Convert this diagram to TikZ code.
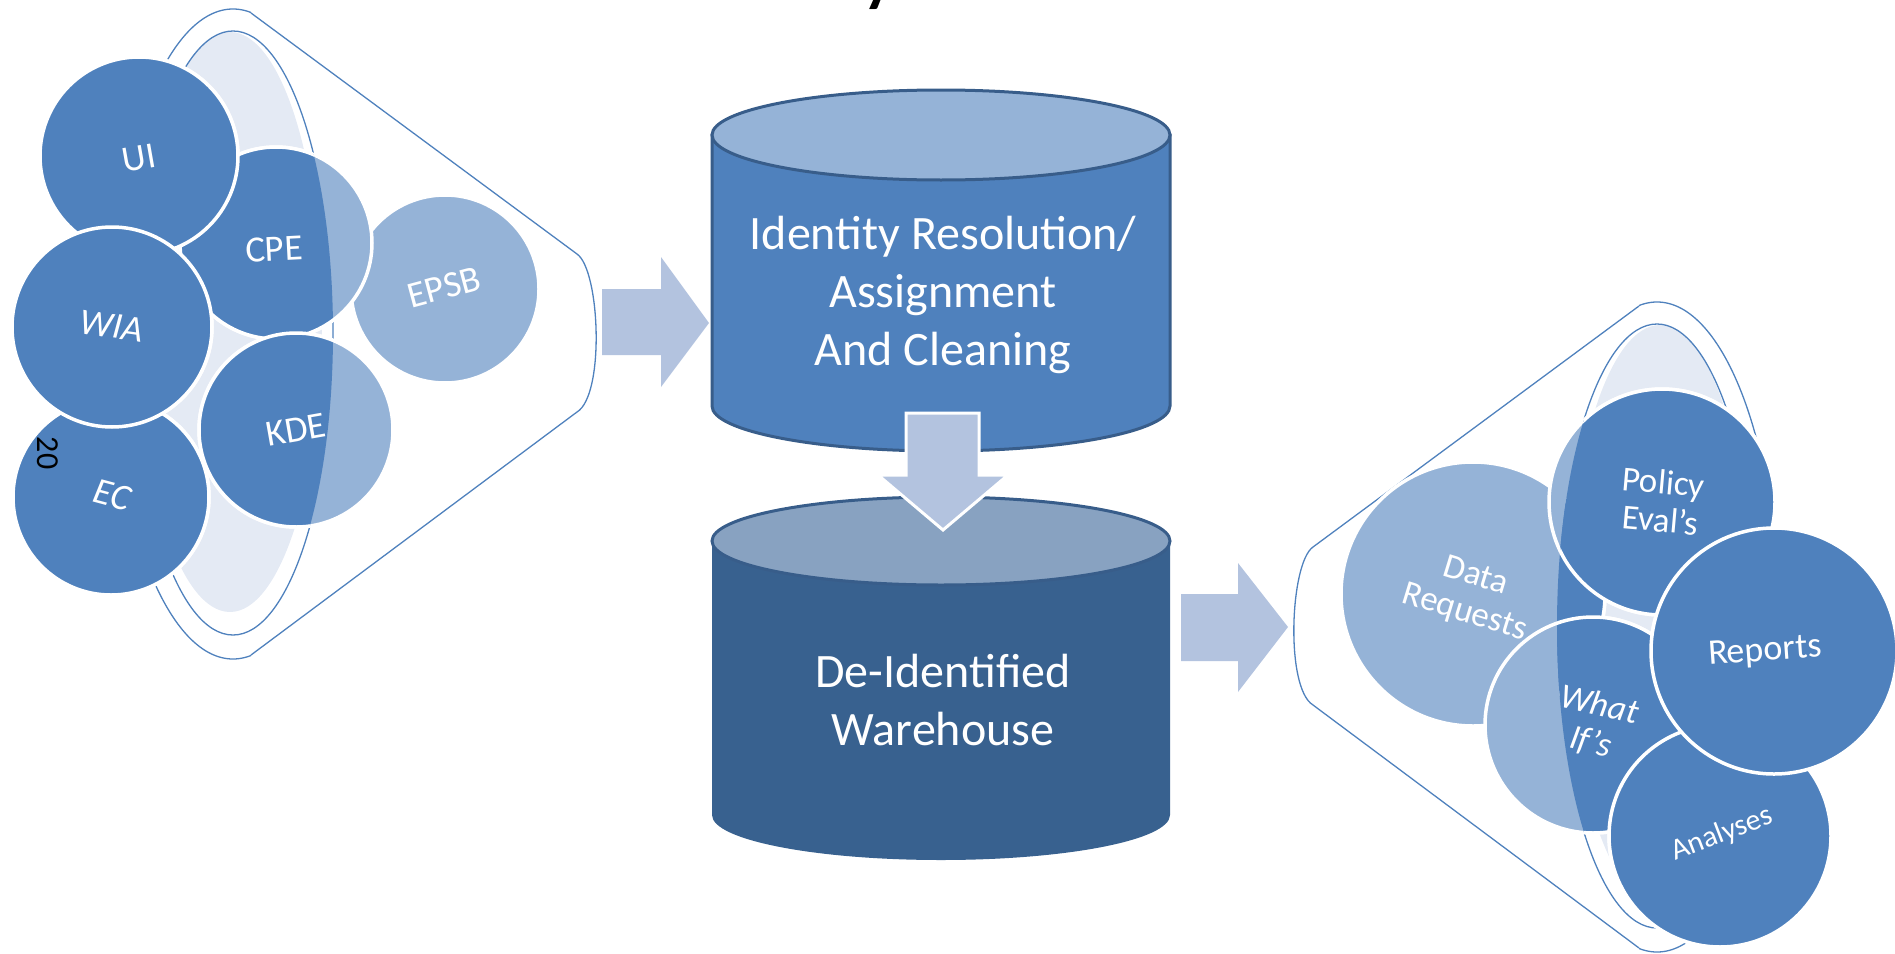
\documentclass[tikz,border=0pt]{standalone}
\usepackage{fontspec}
\setmainfont{Carlito}
\usepackage{xcolor}
\usepackage{tikz}
\usetikzlibrary{positioning}

\begin{document}
\begin{tikzpicture}[
  x=1pt,y=-1pt,
  fun/.style={draw=main,line width=1.3pt},
  disc/.style={draw=white,line width=3.5pt},
  lbl/.style={text=white,inner sep=0pt,align=center,font=\fontsize{37}{40}\selectfont},
  cyltxt/.style={text=white,inner sep=0pt,align=center,font=\fontsize{48}{58}\selectfont}]

  \definecolor{main}{HTML}{4F81BD}
  \definecolor{soft}{HTML}{95B3D7}
  \definecolor{haze}{HTML}{E4EAF4}
  \definecolor{tint}{HTML}{B3C3DF}
  \definecolor{rim}{HTML}{385D8A}
  \definecolor{deep}{HTML}{38618F}
  \definecolor{lid}{HTML}{88A2C1}

  \useasboundingbox (0,0) rectangle (1895,953);

  % ------------------- title (cut off) ----------------------
  \node[anchor=base west,inner sep=0pt,font=\bfseries\fontsize{64}{64}\selectfont] (ttl) at (863,0) {y};

  % ------------------- left funnel ----------------------
  \fill[haze] (230,322) ellipse[x radius=92,y radius=290];
  \begin{scope}
    \clip (0,0) rectangle (251,953);
    \draw[fun] (233,334) ellipse[x radius=122,y radius=325];
  \end{scope}
  \draw[fun] (233,333) ellipse[x radius=100,y radius=302];
  \draw[fun] (251,13) -- (577,254) .. controls (600,270) and (605,395) .. (577,412) -- (251,655);

  \foreach \x/\y/\r in {445/289/94,276/243/96,296/430/97,139/156/99,111/497/98,112/327/100} {
    \draw[disc,fill=soft] (\x,\y) circle[radius=\r];
  }
  \begin{scope}
    \clip (233,0) -- (233,31) arc[start angle=270,end angle=450,x radius=100,y radius=302]
      -- (233,953) -- (0,953) -- (0,0) -- cycle;
    \foreach \x/\y/\r in {445/289/94,276/243/96,296/430/97,139/156/99,111/497/98,112/327/100} {
      \draw[disc,fill=main] (\x,\y) circle[radius=\r];
    }
  \end{scope}

  \node[lbl,rotate=15] (epsb) at (444,287) {EPSB};
  \node[lbl,rotate=3]  (cpe)  at (274,249) {CPE};
  \node[lbl,rotate=10] (kde)  at (296,430) {KDE};
  \node[lbl,rotate=10] (ui)   at (139,158) {UI};
  \node[lbl,rotate=-15,font=\itshape\fontsize{37}{40}\selectfont] (ec)  at (112,495) {EC};
  \node[lbl,rotate=-8,font=\itshape\fontsize{37}{40}\selectfont]  (wia) at (112,326) {WIA};
  \node[rotate=-90,inner sep=0pt,font=\fontsize{32}{32}\selectfont] (pg) at (48,453) {20};

  % ------------------- stores ----------------------
  \draw[draw=rim,line width=3pt,fill=main] (712,135) -- (712,406)
    arc[start angle=180,end angle=0,x radius=229,y radius=45] -- (1170,135) -- cycle;
  \draw[draw=rim,line width=3pt,fill=soft] (941,135) ellipse[x radius=229,y radius=45];
  \node[cyltxt] (irac) at (943,295) {Identity Resolution/\\Assignment\\And Cleaning};

  \fill[deep] (712,541) -- (712,815)
    arc[start angle=180,end angle=0,x radius=229,y radius=45] -- (1170,541) -- cycle;
  \draw[draw=rim,line width=3pt,fill=lid] (941,541) ellipse[x radius=229,y radius=44];
  \node[cyltxt] (dwh) at (943,700) {De-Identified\\Warehouse};

  % ------------------- block arrows ----------------------
  \fill[tint] (602,289) -- (661,289) -- (661,257) -- (709,323) -- (661,387) -- (661,355) -- (602,355) -- cycle;
  \draw[white,line width=3pt,fill=tint] (906,413) -- (979,413) -- (979,475) -- (1008,475)
    -- (943,530) -- (878,475) -- (906,475) -- cycle;
  \fill[tint] (1181,594) -- (1238,594) -- (1238,563) -- (1288,627) -- (1238,692) -- (1238,661) -- (1181,661) -- cycle;

  % ------------------- right funnel ----------------------
  \fill[haze] (1660,615) ellipse[x radius=92,y radius=290];
  \begin{scope}
    \clip (1639,0) rectangle (1895,953);
    \draw[fun] (1657,627) ellipse[x radius=122,y radius=325];
  \end{scope}
  \draw[fun] (1657,626) ellipse[x radius=100,y radius=302];
  \draw[fun] (1639,306) -- (1313,547) .. controls (1290,563) and (1285,688) .. (1313,705) -- (1639,948);

  \foreach \x/\y/\r in {1473/594/132,1593/725/108,1662/502/113,1720/836/111,1774/651/123} {
    \draw[disc,fill=soft] (\x,\y) circle[radius=\r];
  }
  \begin{scope}
    \clip (1657,0) -- (1657,324) arc[start angle=270,end angle=90,x radius=100,y radius=302]
      -- (1657,953) -- (1895,953) -- (1895,0) -- cycle;
    \foreach \x/\y/\r in {1473/594/132,1593/725/108,1662/502/113,1720/836/111,1774/651/123} {
      \draw[disc,fill=main] (\x,\y) circle[radius=\r];
    }
  \end{scope}

  \node[lbl,rotate=-17,font=\fontsize{35}{38}\selectfont] (req) at (1470,595) {Data\\Requests};
  \node[lbl,rotate=-13,font=\itshape\fontsize{35}{38}\selectfont] (whatif) at (1595,724) {What\\If’s};
  \node[lbl,rotate=-5,font=\fontsize{35}{38}\selectfont] (pol) at (1662,501) {Policy\\Eval’s};
  \node[lbl,rotate=21,font=\fontsize{30}{33}\selectfont] (ana) at (1722,834) {Analyses};
  \node[lbl,rotate=4,font=\fontsize{36}{39}\selectfont] (rep) at (1765,652) {Reports};
\end{tikzpicture}
\end{document}
